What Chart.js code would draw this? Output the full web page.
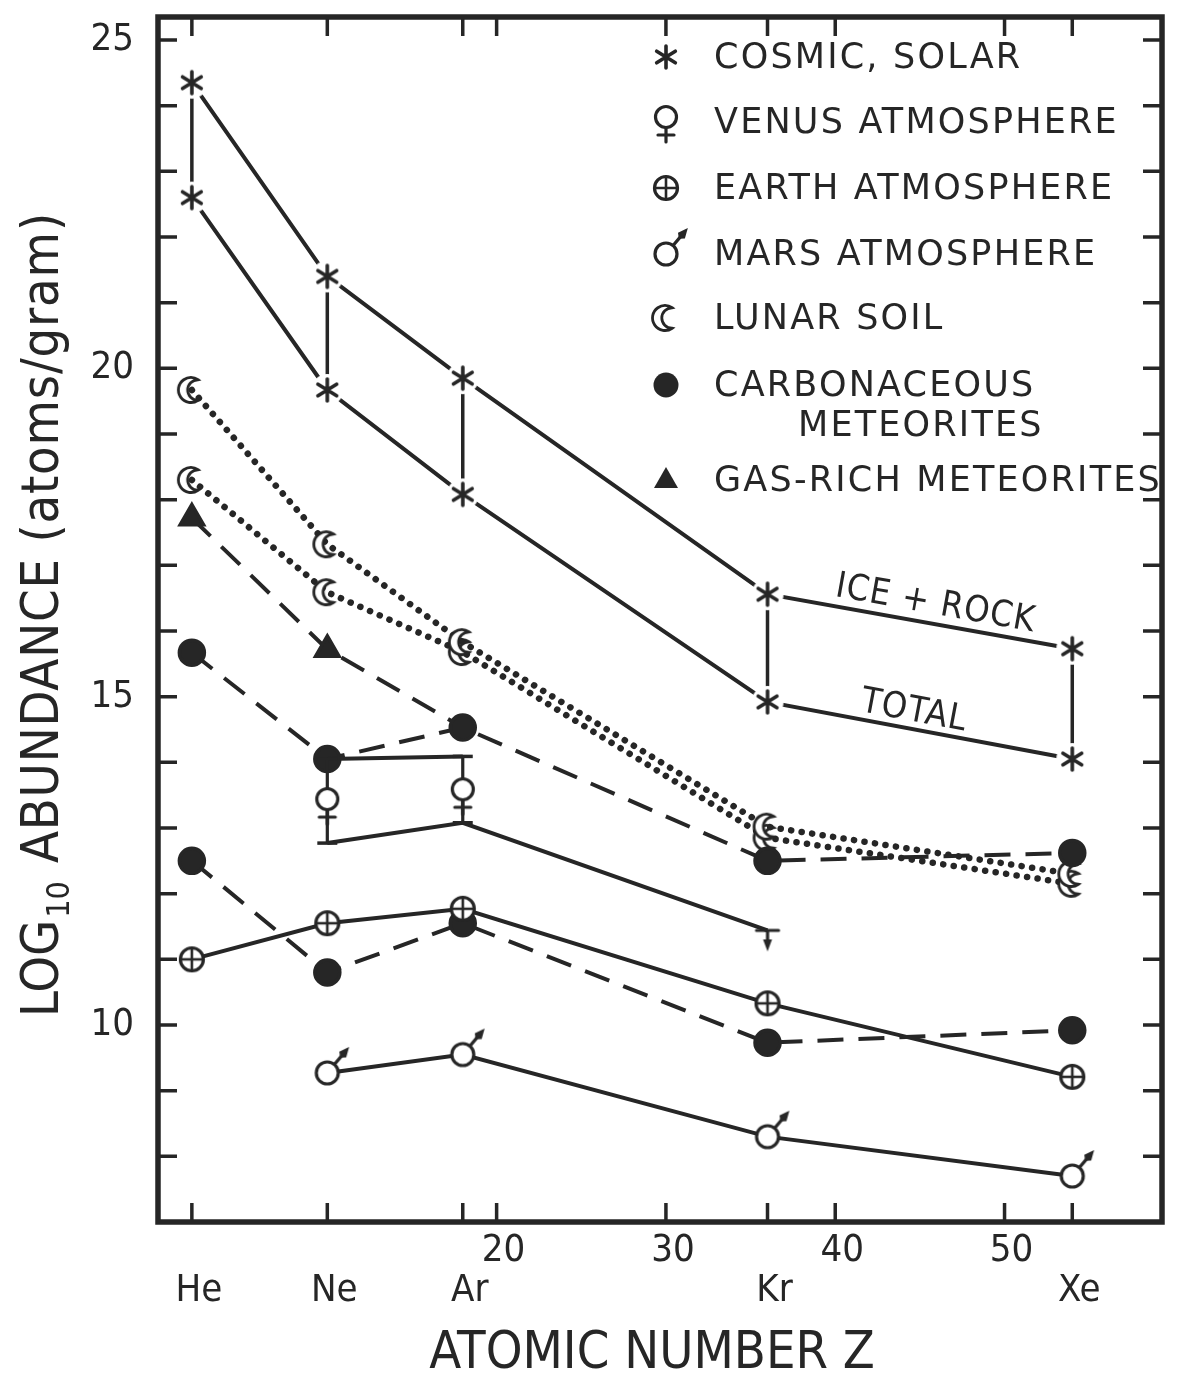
<!DOCTYPE html>
<html>
<head>
<meta charset="utf-8">
<title>Noble gas abundances</title>
<script src="https://cdn.jsdelivr.net/npm/chart.js@4.4.0/dist/chart.umd.min.js"></script>
<style>
  html, body { margin: 0; background: #fff; }
  canvas { display: block; }
</style>
</head>
<body>
<canvas id="chart" width="1179" height="1373"></canvas>
<script>
// noble gases and where they sit on the Z axis
const elements = ['He', 'Ne', 'Ar', 'Kr', 'Xe'];
const atomicZ = [2, 10, 18, 36, 54];

// log10 abundance (atoms/gram), null where there is no measurement
const cosmicIceRock = [24.35, 21.40, 19.85, 16.56, 15.73];
const cosmicTotal   = [22.60, 19.67, 18.08, 14.92, 14.05];
const lunarHigh     = [19.67, 17.32, 15.83, 13.02, 12.30];
const lunarLow      = [18.30, 16.59, 15.68, 12.85, 12.15];
const gasRich       = [17.72, 15.72, 14.53, null, null];
const carbHigh      = [15.67, 14.05, 14.53, 12.50, 12.62];
const carbLow       = [12.50, 10.80, 11.55, 9.73, 9.92];
const earthAtm      = [11.00, 11.55, 11.77, 10.33, 9.21];
const marsAtm       = [null, 9.27, 9.55, 8.30, 7.70];
const venusAtm      = [null, 13.44, 13.59, null, null];
const venusUpper    = [null, 14.05, 14.09, null, null];
const venusLower    = [null, 12.77, 13.08, 11.44, null];

// axis ticks
const xTickValues = [2, 10, 18, 20, 30, 36, 40, 50, 54];
const xNumberLabels = [20, 30, 40, 50];
const yTickValues = [8, 9, 10, 11, 12, 13, 14, 15, 16, 17, 18, 19, 20, 21, 22, 23, 24, 25];
const yLabelValues = [10, 15, 20, 25];

const legendRows = [
  { sym: 'star', text: ['COSMIC, SOLAR'] },
  { sym: 'venus', text: ['VENUS ATMOSPHERE'] },
  { sym: 'earth', text: ['EARTH ATMOSPHERE'] },
  { sym: 'mars', text: ['MARS ATMOSPHERE'] },
  { sym: 'moon', text: ['LUNAR SOIL'] },
  { sym: 'dot', text: ['CARBONACEOUS', 'METEORITES'] },
  { sym: 'tri', text: ['GAS-RICH METEORITES'] }
];

const INK = '#262626';
const COND = "'DejaVu Sans Condensed', 'DejaVu Sans', sans-serif";
const PLAIN = "'DejaVu Sans', sans-serif";

function pts(values) {
  return atomicZ.map((z, i) => ({ x: z, y: values[i] })).filter(p => p.y !== null);
}

// vertical segments joining two series at each element, broken by nulls
function links(a, b) {
  const out = [];
  atomicZ.forEach((z, i) => {
    if (a[i] === null || b[i] === null) return;
    out.push({ x: z, y: a[i] }, { x: z, y: b[i] }, { x: z, y: null });
  });
  return out;
}

function glyph(size, draw) {
  const c = document.createElement('canvas');
  c.width = size; c.height = size;
  const g = c.getContext('2d');
  g.translate(size / 2, size / 2);
  g.strokeStyle = INK;
  g.fillStyle = INK;
  g.lineWidth = 3.2;
  g.lineCap = 'round';
  draw(g);
  return c;
}

const rad = d => d * Math.PI / 180;

const symStar = glyph(40, g => {
  g.fillStyle = '#fff';
  g.beginPath(); g.arc(0, 0, 16, 0, Math.PI * 2); g.fill();
  g.lineWidth = 3.6;
  g.beginPath();
  [90, 32, -32].forEach(a => {
    const dx = Math.cos(rad(a)) * 11, dy = Math.sin(rad(a)) * 11;
    g.moveTo(-dx, -dy); g.lineTo(dx, dy);
  });
  g.stroke();
});

const symVenus = glyph(54, g => {
  g.beginPath(); g.moveTo(0, 10); g.lineTo(0, 25);
  g.moveTo(-8, 18); g.lineTo(8, 18); g.stroke();
  g.fillStyle = '#fff';
  g.beginPath(); g.arc(0, 0, 10.5, 0, Math.PI * 2); g.fill(); g.stroke();
});

const symEarth = glyph(32, g => {
  g.fillStyle = '#fff';
  g.beginPath(); g.arc(0, 0, 11.5, 0, Math.PI * 2); g.fill(); g.stroke();
  g.beginPath(); g.moveTo(-11.5, 0); g.lineTo(11.5, 0); g.moveTo(0, -11.5); g.lineTo(0, 11.5);
  g.lineWidth = 2.6; g.stroke();
});

const symMars = glyph(76, g => {
  const a = rad(-50);
  g.beginPath();
  g.moveTo(Math.cos(a) * 11, Math.sin(a) * 11);
  g.lineTo(Math.cos(a) * 24, Math.sin(a) * 24);
  g.stroke();
  // teardrop arrow head
  g.save();
  g.rotate(a);
  g.beginPath();
  g.moveTo(34, 0); g.lineTo(24, -4.5); g.lineTo(20, 0); g.lineTo(24, 4.5); g.closePath();
  g.fill();
  g.restore();
  g.fillStyle = '#fff';
  g.beginPath(); g.arc(0, 0, 11, 0, Math.PI * 2); g.fill(); g.stroke();
});

const symMoon = glyph(34, g => {
  g.lineWidth = 2.8;
  g.fillStyle = '#fff';
  g.beginPath();
  g.arc(-1, 0, 12.5, rad(55), rad(305), false);
  g.arc(6, 0, 10.2, rad(270), rad(90), true);
  g.closePath();
  g.fill(); g.stroke();
});

const symLimit = glyph(48, g => {
  g.beginPath(); g.moveTo(-11, 0); g.lineTo(11, 0); g.moveTo(0, 0); g.lineTo(0, 10); g.stroke();
  g.beginPath(); g.moveTo(0, 21); g.lineTo(-4.5, 9); g.lineTo(4.5, 9); g.closePath(); g.fill();
});

const symbols = { star: symStar, venus: symVenus, earth: symEarth, mars: symMars, moon: symMoon };

const solid = { borderColor: INK, borderWidth: 4, showLine: true, fill: false };
const dashed = { ...solid, borderDash: [26, 15] };
const dotted = { ...solid, borderWidth: 6.5, borderDash: [0.1, 10.5], borderCapStyle: 'round' };
const marks = (style, r) => ({ pointStyle: style, pointRadius: r, pointHoverRadius: r,
  pointBackgroundColor: INK, pointBorderColor: INK, pointBorderWidth: 3.5 });

const datasets = [
  { label: 'Earth atmosphere', data: pts(earthAtm), ...solid, ...marks(symEarth, 12), order: 1 },
  { label: 'Venus atmosphere', data: pts(venusAtm), showLine: false, ...marks(symVenus, 12), order: 2 },
  { label: 'Venus upper', data: pts(venusUpper), ...solid, ...marks('line', 10), order: 3 },
  { label: 'Venus lower', data: pts(venusLower), ...solid,
    ...marks(['line', 'line', symLimit], 10), order: 3 },
  { label: 'Venus range', data: links(venusLower, venusUpper), ...solid, borderWidth: 3.2,
    pointRadius: 0, spanGaps: false, order: 4 },
  { label: 'Mars atmosphere', data: pts(marsAtm), ...solid, ...marks(symMars, 12), order: 2 },
  { label: 'Carbonaceous high', data: pts(carbHigh), ...dashed, ...marks('circle', 12.5), order: 5 },
  { label: 'Carbonaceous low', data: pts(carbLow), ...dashed, ...marks('circle', 12.5), order: 5 },
  { label: 'Gas-rich meteorites', data: pts(gasRich), ...dashed,
    ...marks('triangle', 13.5), pointRadius: [13.5, 13.5, 0], order: 6 },
  { label: 'Lunar high', data: pts(lunarHigh), ...dotted, ...marks(symMoon, 12), order: 7 },
  { label: 'Lunar low', data: pts(lunarLow), ...dotted, ...marks(symMoon, 12), order: 7 },
  { label: 'Cosmic ice + rock', data: pts(cosmicIceRock), ...solid, ...marks(symStar, 12), order: 8 },
  { label: 'Cosmic total', data: pts(cosmicTotal), ...solid, ...marks(symStar, 12), order: 8 },
  { label: 'Cosmic links', data: links(cosmicIceRock, cosmicTotal), ...solid, borderWidth: 3.5,
    pointRadius: 0, spanGaps: false, order: 9 }
];

// inward ticks on all four sides plus the heavy frame
const framePlugin = {
  id: 'frame',
  afterDraw(chart) {
    const { ctx, chartArea: a, scales: { x, y } } = chart;
    ctx.save();
    ctx.strokeStyle = INK;
    ctx.lineWidth = 3.5;
    ctx.beginPath();
    x.ticks.forEach(t => {
      const px = x.getPixelForValue(t.value);
      ctx.moveTo(px, a.bottom); ctx.lineTo(px, a.bottom - 19);
      ctx.moveTo(px, a.top); ctx.lineTo(px, a.top + 19);
    });
    y.ticks.forEach(t => {
      const py = y.getPixelForValue(t.value);
      ctx.moveTo(a.left, py); ctx.lineTo(a.left + 19, py);
      ctx.moveTo(a.right, py); ctx.lineTo(a.right - 19, py);
    });
    ctx.stroke();
    ctx.lineWidth = 5.5;
    ctx.strokeRect(a.left, a.top, a.right - a.left, a.bottom - a.top);
    ctx.restore();
  }
};

// axis titles, the two cosmic labels and the symbol key
const textPlugin = {
  id: 'texts',
  afterDraw(chart) {
    const { ctx, scales: { x, y } } = chart;
    ctx.save();
    ctx.fillStyle = INK;

    // y title, rotated, with a subscript 10
    ctx.save();
    ctx.translate(58, 1017);
    ctx.rotate(-Math.PI / 2);
    ctx.textBaseline = 'alphabetic';
    ctx.font = `52px ${COND}`;
    ctx.fillText('LOG', 0, 0);
    let pos = ctx.measureText('LOG').width + 2;
    ctx.font = `32px ${COND}`;
    ctx.fillText('10', pos, 11);
    pos += ctx.measureText('10').width + 18;
    ctx.font = `52px ${COND}`;
    ctx.letterSpacing = '0.8px';
    ctx.fillText('ABUNDANCE (atoms/gram)', pos, 0);
    ctx.restore();

    // x title
    ctx.font = `52px ${COND}`;
    ctx.textAlign = 'center';
    ctx.textBaseline = 'alphabetic';
    ctx.fillText('ATOMIC NUMBER Z', 652, 1368);

    // labels riding on the Kr-Xe cosmic segments
    const rideLabel = (vals, text, t, off) => {
      const x0 = x.getPixelForValue(atomicZ[3]), y0 = y.getPixelForValue(vals[3]);
      const x1 = x.getPixelForValue(atomicZ[4]), y1 = y.getPixelForValue(vals[4]);
      const ang = Math.atan2(y1 - y0, x1 - x0);
      ctx.save();
      ctx.translate(x0 + (x1 - x0) * t, y0 + (y1 - y0) * t);
      ctx.rotate(ang);
      ctx.font = `36px ${COND}`;
      ctx.letterSpacing = '1px';
      ctx.textAlign = 'center';
      ctx.textBaseline = 'alphabetic';
      ctx.fillText(text, 0, -off);
      ctx.restore();
    };
    rideLabel(cosmicIceRock, 'ICE + ROCK', 0.54, 10);
    rideLabel(cosmicTotal, 'TOTAL', 0.47, 8);

    // key
    const rowY = [57, 122, 188, 254, 318, 385, 480];
    const symX = 666, textX = 714;
    ctx.font = `35px ${PLAIN}`;
    ctx.letterSpacing = '2.2px';
    ctx.textAlign = 'left';
    ctx.textBaseline = 'middle';
    legendRows.forEach((row, i) => {
      const cy = rowY[i];
      if (symbols[row.sym]) {
        const s = symbols[row.sym];
        const dy = row.sym === 'venus' ? -5 : 0;
        ctx.drawImage(s, symX - s.width / 2, cy + dy - s.height / 2);
      } else if (row.sym === 'dot') {
        ctx.beginPath(); ctx.arc(symX, cy, 12.5, 0, Math.PI * 2); ctx.fill();
      } else if (row.sym === 'tri') {
        ctx.beginPath();
        ctx.moveTo(symX, cy - 13); ctx.lineTo(symX + 12, cy + 8); ctx.lineTo(symX - 12, cy + 8);
        ctx.closePath(); ctx.fill();
      }
      row.text.forEach((line, j) => {
        ctx.fillText(line, j === 0 ? textX : textX + 84, cy + 2 + j * 40);
      });
    });
    ctx.restore();
  }
};

Chart.defaults.color = INK;
Chart.defaults.font.family = COND;

new Chart(document.getElementById('chart'), {
  type: 'scatter',
  data: { datasets },
  options: {
    responsive: false,
    animation: false,
    layout: { padding: { top: 12, right: 17, left: 0, bottom: 0 } },
    plugins: { legend: { display: false }, tooltip: { enabled: false } },
    scales: {
      x: {
        type: 'linear', min: 0, max: 59.3,
        grid: { display: false, drawTicks: false },
        border: { display: false },
        afterBuildTicks: s => { s.ticks = xTickValues.map(v => ({ value: v })); },
        afterFit: s => { s.height = 151; s.paddingLeft = 0; s.paddingRight = 0; },
        ticks: {
          autoSkip: false, maxRotation: 0, padding: 9, labelOffset: 7,
          font: { size: 38, family: COND, lineHeight: '40px' },
          callback: v => {
            if (xNumberLabels.includes(v)) return [String(v), ''];
            const i = atomicZ.indexOf(v);
            return i >= 0 ? ['', elements[i]] : '';
          }
        }
      },
      y: {
        type: 'linear', min: 7, max: 25.35,
        grid: { display: false, drawTicks: false },
        border: { display: false },
        afterBuildTicks: s => { s.ticks = yTickValues.map(v => ({ value: v })); },
        afterFit: s => { s.width = 158; s.paddingTop = 0; s.paddingBottom = 0; },
        ticks: {
          autoSkip: false, padding: 24,
          font: { size: 38, family: COND },
          callback: v => yLabelValues.includes(v) ? String(v) : ''
        }
      }
    }
  },
  plugins: [framePlugin, textPlugin]
});
</script>
</body>
</html>
